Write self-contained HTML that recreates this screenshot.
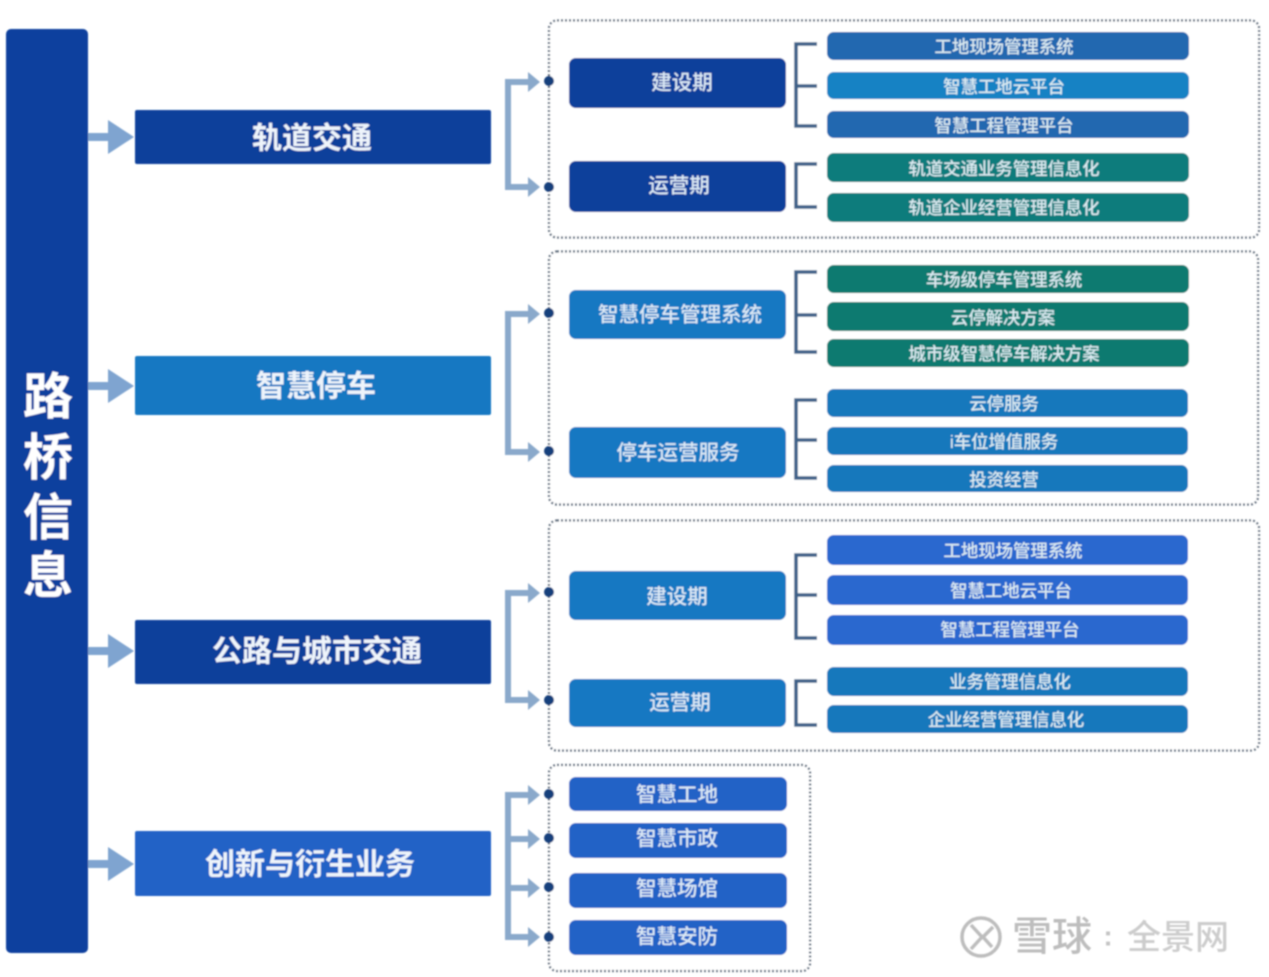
<!DOCTYPE html>
<html lang="zh"><head><meta charset="utf-8"><title>路桥信息</title>
<style>
html,body{margin:0;padding:0;background:#fff}
svg{display:block;position:absolute;left:0;top:0}
text{font-family:"Liberation Sans","Noto Sans CJK SC",sans-serif;text-anchor:middle;dominant-baseline:central;fill:#fff;font-weight:700}
.l1{font-size:30px;fill:#eef4fb}
.l2{font-size:20.5px;font-weight:500;fill:#dce9f6}
.l3{font-size:17.4px;font-weight:500;fill:#dcebf2}
.dash{fill:#fff;stroke:#5f6d7e;stroke-width:2.2;stroke-dasharray:2 2}
.arr{fill:none;stroke:#8aa9cb;stroke-width:6}
.br{fill:none;stroke:#3d6088;stroke-width:3.6}
.dot{fill:#123f7c}
</style></head>
<body>
<svg width="1269" height="977" viewBox="0 0 1269 977" xmlns="http://www.w3.org/2000/svg">
<defs><filter id="b" x="-2%" y="-2%" width="104%" height="104%"><feGaussianBlur stdDeviation="0.7"/></filter></defs>
<g filter="url(#b)">
<rect x="6" y="29" width="82" height="924" rx="5" fill="#0d3f9e"/>
<g style="font-size:50px"><text x="48" y="397">路</text><text x="48" y="458">桥</text><text x="48" y="518">信</text><text x="48" y="576">息</text></g>

<!-- main arrows -->
<g fill="#7fa4d0">
<path d="M88 133h20v-13l26 17-26 17v-13h-20z"/>
<path d="M88 382h20v-13l26 17-26 17v-13h-20z"/>
<path d="M88 647h20v-13l26 17-26 17v-13h-20z"/>
<path d="M88 860h20v-13l26 17-26 17v-13h-20z"/>
</g>

<!-- level 1 -->
<rect x="135" y="110" width="356" height="54" rx="2" fill="#0b3f9b"/>
<rect x="135" y="356" width="356" height="59" rx="2" fill="#1878c2"/>
<rect x="135" y="620" width="356" height="64" rx="2" fill="#0b3f9b"/>
<rect x="135" y="831" width="356" height="65" rx="2" fill="#2062c6"/>
<text class="l1" x="312" y="139">轨道交通</text>
<text class="l1" x="316" y="387">智慧停车</text>
<text class="l1" x="317" y="652">公路与城市交通</text>
<text class="l1" x="310" y="865">创新与衍生业务</text>

<!-- dashed groups -->
<rect class="dash" x="549" y="20.5" width="710" height="217" rx="8"/>
<rect class="dash" x="549" y="251.5" width="709" height="253" rx="8"/>
<rect class="dash" x="549" y="520.5" width="710" height="230" rx="8"/>
<rect class="dash" x="549" y="765" width="261" height="206" rx="8"/>

<!-- branch arrows -->
<g class="arr">
<path d="M530 82H508V187H530"/>
<path d="M530 314H508V452H530"/>
<path d="M530 593H508V700H530"/>
<path d="M530 795H508V937H530M508 839H530M508 888H530"/>
</g>
<g fill="#8aa9cb">
<path d="M528 72l12 10-12 10z"/><path d="M528 177l12 10-12 10z"/>
<path d="M528 304l12 10-12 10z"/><path d="M528 442l12 10-12 10z"/>
<path d="M528 583l12 10-12 10z"/><path d="M528 690l12 10-12 10z"/>
<path d="M528 785l12 10-12 10z"/><path d="M528 829l12 10-12 10z"/>
<path d="M528 878l12 10-12 10z"/><path d="M528 927l12 10-12 10z"/>
</g>
<g class="dot">
<circle cx="549" cy="81" r="5"/><circle cx="549" cy="187" r="5"/>
<circle cx="549" cy="313" r="5"/><circle cx="549" cy="451" r="5"/>
<circle cx="549" cy="592" r="5"/><circle cx="549" cy="700" r="5"/>
<circle cx="549" cy="794" r="5"/><circle cx="549" cy="838" r="5"/>
<circle cx="549" cy="887" r="5"/><circle cx="549" cy="937" r="5"/>
</g>

<!-- level 2 -->
<g>
<rect x="569" y="58" width="217" height="50" rx="7" fill="#0b3f9b"/>
<rect x="569" y="161" width="217" height="51" rx="7" fill="#0b3f9b"/>
<rect x="569" y="290" width="217" height="49" rx="7" fill="#1878c2"/>
<rect x="569" y="427" width="217" height="51" rx="7" fill="#1878c2"/>
<rect x="569" y="571" width="217" height="49" rx="7" fill="#1878c2"/>
<rect x="569" y="679" width="217" height="48" rx="7" fill="#1878c2"/>
<rect x="569" y="777" width="218" height="34" rx="7" fill="#2062c6"/>
<rect x="569" y="823" width="218" height="35" rx="7" fill="#2062c6"/>
<rect x="569" y="873" width="218" height="35" rx="7" fill="#2062c6"/>
<rect x="569" y="920" width="218" height="35" rx="7" fill="#2062c6"/>
</g>
<text class="l2" x="682" y="83">建设期</text>
<text class="l2" x="679" y="186">运营期</text>
<text class="l2" x="680" y="315">智慧停车管理系统</text>
<text class="l2" x="678" y="453">停车运营服务</text>
<text class="l2" x="677" y="597">建设期</text>
<text class="l2" x="680" y="703">运营期</text>
<text class="l2" x="677" y="795">智慧工地</text>
<text class="l2" x="677" y="839">智慧市政</text>
<text class="l2" x="677" y="889">智慧场馆</text>
<text class="l2" x="677" y="937">智慧安防</text>

<!-- brackets -->
<g class="br">
<path d="M817 44H796V126H817M796 86H817"/>
<path d="M817 164H796V207H817"/>
<path d="M817 272H796V352H817M796 315H817"/>
<path d="M817 400H796V478H817M796 440H817"/>
<path d="M817 555H796V638H817M796 595H817"/>
<path d="M817 681H796V725H817"/>
</g>

<!-- level 3 -->
<g>
<rect x="827" y="32" width="362" height="28" rx="7" fill="#2468b0"/>
<rect x="827" y="72" width="362" height="27" rx="7" fill="#1482c4"/>
<rect x="827" y="111" width="362" height="27" rx="7" fill="#2468b0"/>
<rect x="827" y="153" width="362" height="29" rx="7" fill="#0b7b7b"/>
<rect x="827" y="193" width="362" height="29" rx="7" fill="#0b7b7b"/>
<rect x="827" y="265" width="362" height="28" rx="7" fill="#0b7a70"/>
<rect x="827" y="302" width="362" height="29" rx="7" fill="#0b7a70"/>
<rect x="827" y="339" width="362" height="28" rx="7" fill="#0b7a70"/>
<rect x="827" y="389" width="361" height="28" rx="7" fill="#1478bc"/>
<rect x="827" y="427" width="361" height="28" rx="7" fill="#1478bc"/>
<rect x="827" y="465" width="361" height="27" rx="7" fill="#1478bc"/>
<rect x="827" y="535" width="361" height="30" rx="7" fill="#2a67cf"/>
<rect x="827" y="575" width="361" height="30" rx="7" fill="#2a67cf"/>
<rect x="827" y="615" width="361" height="30" rx="7" fill="#2a67cf"/>
<rect x="827" y="667" width="361" height="29" rx="7" fill="#1478bc"/>
<rect x="827" y="705" width="361" height="28" rx="7" fill="#1478bc"/>
</g>
<text class="l3" x="1004" y="47">工地现场管理系统</text>
<text class="l3" x="1004" y="87">智慧工地云平台</text>
<text class="l3" x="1004" y="126">智慧工程管理平台</text>
<text class="l3" x="1004" y="169">轨道交通业务管理信息化</text>
<text class="l3" x="1004" y="208">轨道企业经营管理信息化</text>
<text class="l3" x="1004" y="280">车场级停车管理系统</text>
<text class="l3" x="1003" y="318">云停解决方案</text>
<text class="l3" x="1004" y="354">城市级智慧停车解决方案</text>
<text class="l3" x="1004" y="404">云停服务</text>
<text class="l3" x="1004" y="442">i车位增值服务</text>
<text class="l3" x="1004" y="480">投资经营</text>
<text class="l3" x="1013" y="551">工地现场管理系统</text>
<text class="l3" x="1011" y="591">智慧工地云平台</text>
<text class="l3" x="1010" y="630">智慧工程管理平台</text>
<text class="l3" x="1010" y="682">业务管理信息化</text>
<text class="l3" x="1006" y="720">企业经营管理信息化</text>

<!-- watermark -->
<g fill="none" stroke="#bdbdbd" stroke-width="3.5">
<circle cx="981" cy="937" r="19"/>
<path d="M971 925l11 12-11 12M993 927l-10 10 9 10"/>
</g>
<text x="1052" y="937" style="font-size:40px;font-weight:500;fill:#bdbdbd">雪球</text>
<text x="1108" y="936" style="font-size:28px;font-weight:700;fill:#c4c4c4">:</text>
<text x="1178" y="938" style="font-size:34px;font-weight:500;fill:#cccccc">全景网</text>
</g>
</svg>
</body></html>
